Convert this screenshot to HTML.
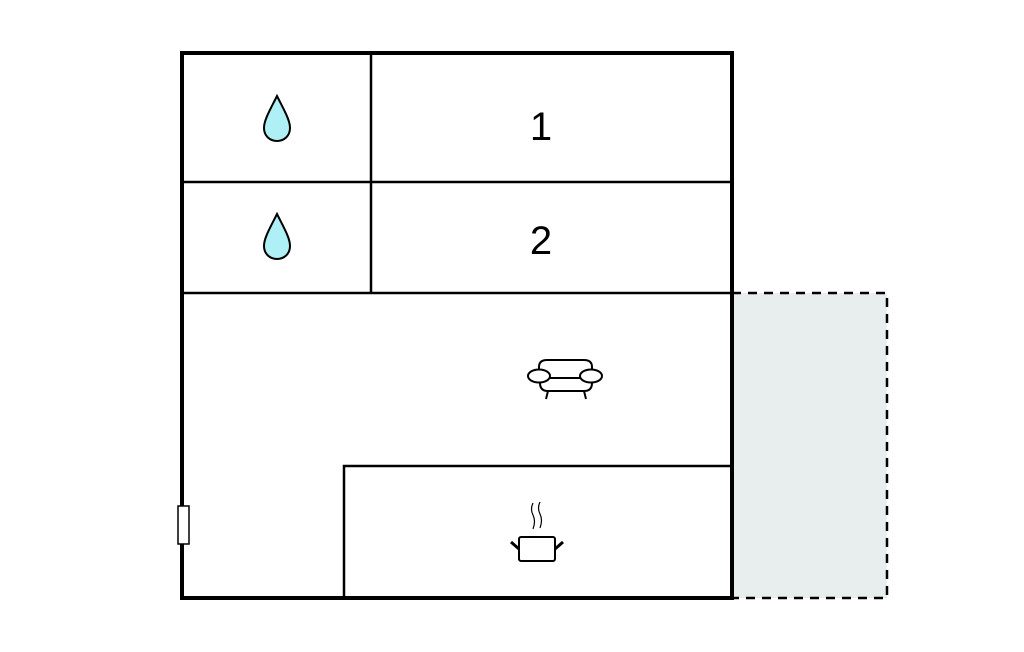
<!DOCTYPE html>
<html><head><meta charset="utf-8"><style>html,body{margin:0;padding:0;background:#fff;width:1024px;height:652px;overflow:hidden}</style></head>
<body>
<svg width="1024" height="652" viewBox="0 0 1024 652" xmlns="http://www.w3.org/2000/svg">
<rect x="732" y="293" width="155" height="305" fill="#e8eded" stroke="#000" stroke-width="2.5" stroke-dasharray="9,7"/>
<rect x="182" y="53" width="550" height="545" fill="#fff" stroke="none"/>
<g stroke="#000" stroke-width="2.5" fill="none">
<line x1="371" y1="53" x2="371" y2="293"/>
<line x1="182" y1="182" x2="732" y2="182"/>
<line x1="182" y1="293" x2="732" y2="293"/>
<polyline points="344,598 344,466 732,466"/>
</g>
<rect x="182" y="53" width="550" height="545" fill="none" stroke="#000" stroke-width="4"/>
<rect x="178" y="506" width="11" height="38" fill="#fff" stroke="#000" stroke-width="1.5"/>
<g fill="#aef0f5" stroke="#000" stroke-width="2">
<path d="M277,96 C270,110 264,120 264,128 C264,136 270,141 277,141 C284,141 290,136 290,128 C290,120 284,110 277,96Z"/>
<path d="M277,214 C270,228 264,238 264,246 C264,254 270,259 277,259 C284,259 290,254 290,246 C290,238 284,228 277,214Z"/>
</g>
<g font-family="Liberation Sans, sans-serif" font-size="40" text-anchor="middle" fill="#000">
<text x="541" y="140">1</text>
<text x="541" y="254">2</text>
</g>
<g stroke="#000" stroke-width="2" fill="#fff">
<path d="M539,375 v-8 q0,-7 8,-7 h37 q8,0 8,7 v8"/>
<path d="M540,379 v4 q0,8 8,8 h36 q8,0 8,-8 v-4"/>
<line x1="548" y1="391" x2="546" y2="399"/>
<line x1="584" y1="391" x2="586" y2="399"/>
<line x1="546" y1="378" x2="585" y2="378"/>
<ellipse cx="539" cy="376" rx="11" ry="6.5"/>
<ellipse cx="591" cy="376" rx="11" ry="6.5"/>
</g>
<g stroke="#000" fill="none">
<rect x="519" y="537" width="36" height="24" rx="2" stroke-width="2"/>
<line x1="511" y1="542" x2="519" y2="549" stroke-width="3"/>
<line x1="563" y1="542" x2="555" y2="549" stroke-width="3"/>
<path d="M533,503 q-3,6 0,12 q3,6 0,14" stroke-width="1.2"/>
<path d="M540,502 q-3,6 0,12 q3,6 0,14" stroke-width="1.2"/>
</g>
</svg>
</body></html>
